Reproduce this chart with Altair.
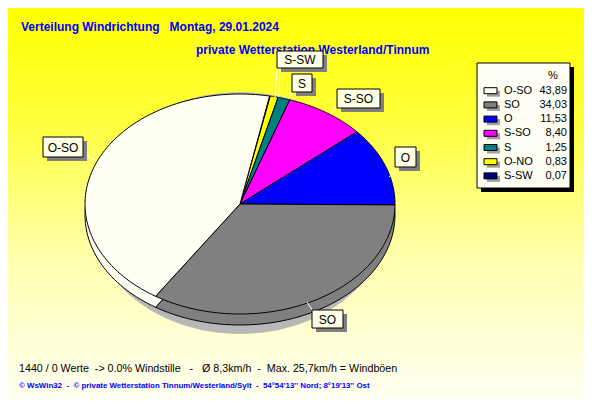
import altair as alt
import pandas as pd

# ---------------- data ----------------
names = ["O-SO", "SO", "O", "S-SO", "S", "O-NO", "S-SW"]
values = [43.89, 34.03, 11.53, 8.40, 1.25, 0.83, 0.07]
value_labels = ["43,89", "34,03", "11,53", "8,40", "1,25", "0,83", "0,07"]
colors = ["#FFFFF4", "#808080", "#0000FF", "#FF00FF", "#008080", "#FFFF00", "#000080"]

NB = "\u00a0"
title1 = "Verteilung Windrichtung   Montag, 29.01.2024".replace(" ", NB)
title2 = "private Wetterstation Westerland/Tinnum"
info_text = "1440 / 0 Werte  -> 0.0% Windstille   -   Ø 8,3km/h  -  Max. 25,7km/h = Windböen".replace(" ", NB)
footer_text = "© WsWin32  -  © private Wetterstation Tinnum/Westerland/Sylt  -  54°54'13'' Nord; 8°19'13'' Ost".replace(" ", NB)

# ---------------- layout (page pixel coords) ----------------
M = 8  # page margin
W, H = 592 - 2 * M, 407 - 2 * M
CX, CY = 240 - M, 204 - M
RX, RY = 155, 110
DEPTH = 11
START = 11  # degrees, clockwise from top
N = 90
FONT = "Liberation Sans"

label_boxes = {  # name: (x0, y0, x1, y1) page coords
    "O-SO": (43, 137, 83, 157),
    "S-SW": (277, 51, 323, 68),
    "S": (292, 74, 312, 92),
    "S-SO": (337, 89, 380, 108),
    "O": (395, 147, 416, 167),
    "SO": (312, 310, 343, 328),
}
leaders = [  # (x0, y0, x1, y1) page coords
    (84, 154, 96, 161),
    (277, 68, 275, 98),
    (280, 68, 279, 97),
    (292, 92, 289, 98),
    (337, 106, 330, 114),
    (397, 170, 389, 177),
    (313, 311, 307, 302),
]
LEG = (477, 63, 570, 188)
LEG_ROW0, LEG_STEP = 90.7, 14.2

xs = alt.Scale(domain=[0, W], nice=False, zero=False)
ys = alt.Scale(domain=[0, H], nice=False, zero=False, reverse=True)
X = lambda f: alt.X(f, type="quantitative", scale=xs, axis=None)
Y = lambda f: alt.Y(f, type="quantitative", scale=ys, axis=None)
X2 = lambda f: alt.X2(f)
Y2 = lambda f: alt.Y2(f)

# ---------------- pie slices (clockwise from START in reverse legend order) ----------------
df = pd.DataFrame({"name": names, "value": values, "color": colors})
rev = df.iloc[::-1].reset_index(drop=True)
total = rev["value"].sum()
rev["t1"] = START + rev["value"].cumsum() / total * 360
rev["t0"] = rev["t1"] - rev["value"] / total * 360


def wedges(dy):
    return (
        alt.Chart(rev)
        .transform_calculate(i=f"sequence(0,{N + 3})")
        .transform_flatten(["i"])
        .transform_calculate(frac=f"clamp((datum.i-1)/{N},0,1)")
        .transform_calculate(
            t="(datum.t0 + (datum.t1-datum.t0)*datum.frac)*PI/180",
            c=f"datum.i==0 || datum.i=={N + 2}",
        )
        .transform_calculate(
            px=f"datum.c ? {CX} : {CX} + {RX}*sin(datum.t)",
            py=f"(datum.c ? {CY} : {CY} - {RY}*cos(datum.t)) + {dy}",
        )
        .mark_line(interpolate="linear-closed", stroke="black", strokeWidth=1, strokeJoin="round")
        .encode(
            x=X("px"),
            y=Y("py"),
            fill=alt.Fill("name:N", scale=alt.Scale(domain=names, range=colors), legend=None),
            detail="name:N",
            order=alt.Order("i:Q"),
        )
    )


shadow = (
    alt.Chart(pd.DataFrame({"k": [0]}))
    .transform_calculate(i="sequence(0,121)")
    .transform_flatten(["i"])
    .transform_calculate(t="datum.i*3*PI/180")
    .transform_calculate(
        px=f"{CX} + 150*sin(datum.t)",
        py=f"{CY} + 9 - 121*cos(datum.t)",
    )
    .mark_line(interpolate="linear-closed", fill="#B8B8B8", strokeOpacity=0)
    .encode(x=X("px"), y=Y("py"), order=alt.Order("i:Q"))
)

# ---------------- background ----------------
one = pd.DataFrame({"k": [0]})
bg = alt.Chart(one).mark_rect(
    color=alt.Gradient(
        gradient="linear",
        stops=[
            alt.GradientStop(color="#FFFF00", offset=0),
            alt.GradientStop(color="#FFFF40", offset=0.3),
            alt.GradientStop(color="#FFFFB0", offset=0.65),
            alt.GradientStop(color="#FFFFF2", offset=1),
        ],
        x1=0, x2=0, y1=0, y2=1,
    )
).encode(x=alt.value(0), x2=alt.value(W), y=alt.value(0), y2=alt.value(H))

# ---------------- labels ----------------
lb = pd.DataFrame(
    [
        {"name": k, "x0": v[0] - M, "y0": v[1] - M, "x1": v[2] - M, "y1": v[3] - M,
         "sx0": v[0] - M + 4, "sy0": v[1] - M + 4, "sx1": v[2] - M + 4, "sy1": v[3] - M + 4,
         "cx": (v[0] + v[2]) / 2 - M, "cy": (v[1] + v[3]) / 2 - M + 0.5}
        for k, v in label_boxes.items()
    ]
)
lab_shadow = alt.Chart(lb).mark_rect(color="#808080").encode(
    x=X("sx0"), x2=X2("sx1"), y=Y("sy0"), y2=Y2("sy1"))
lab_box = alt.Chart(lb).mark_rect(fill="#FFFFE6", stroke="black", strokeWidth=1).encode(
    x=X("x0"), x2=X2("x1"), y=Y("y0"), y2=Y2("y1"))
lab_text = alt.Chart(lb).mark_text(font=FONT, fontSize=12, color="black", baseline="middle").encode(
    x=X("cx"), y=Y("cy"), text="name:N")

ld = pd.DataFrame([{"x0": a - M, "y0": b - M, "x1": c - M, "y1": d - M} for a, b, c, d in leaders])
lead = alt.Chart(ld).mark_rule(color="white", strokeWidth=1).encode(
    x=X("x0"), y=Y("y0"), x2=X2("x1"), y2=Y2("y1"))

# ---------------- legend ----------------
lx0, ly0, lx1, ly1 = [v - M for v in LEG]
leg_frame = pd.DataFrame({"x0": [lx0], "y0": [ly0], "x1": [lx1], "y1": [ly1],
                          "sx0": [lx0 + 4], "sy0": [ly0 + 4], "sx1": [lx1 + 4], "sy1": [ly1 + 4]})
leg_shadow = alt.Chart(leg_frame).mark_rect(color="black").encode(
    x=X("sx0"), x2=X2("sx1"), y=Y("sy0"), y2=Y2("sy1"))
leg_box = alt.Chart(leg_frame).mark_rect(fill="#FFFFF6", stroke="black", strokeWidth=1).encode(
    x=X("x0"), x2=X2("x1"), y=Y("y0"), y2=Y2("y1"))

leg = pd.DataFrame({"name": names, "val": value_labels, "row": list(range(len(names)))})
leg_base = alt.Chart(leg).transform_calculate(
    yc=f"{LEG_ROW0 - M} + datum.row*{LEG_STEP}",
    sy0=f"{LEG_ROW0 - M} + datum.row*{LEG_STEP} - 3",
    sy1=f"{LEG_ROW0 - M} + datum.row*{LEG_STEP} + 3",
    hy0=f"{LEG_ROW0 - M} + datum.row*{LEG_STEP} + 0",
    hy1=f"{LEG_ROW0 - M} + datum.row*{LEG_STEP} + 6",
    sx0=f"{484 - M}", sx1=f"{497 - M}", hx0=f"{487 - M}", hx1=f"{500 - M}",
)
sw_shadow = leg_base.mark_rect(color="#A0A0A0").encode(
    x=X("hx0"), x2=X2("hx1"), y=Y("hy0"), y2=Y2("hy1"))
sw = leg_base.mark_rect(stroke="black", strokeWidth=1).encode(
    x=X("sx0"), x2=X2("sx1"), y=Y("sy0"), y2=Y2("sy1"),
    fill=alt.Fill("name:N", scale=alt.Scale(domain=names, range=colors), legend=None))
leg_names = leg_base.mark_text(font=FONT, fontSize=11, align="left", baseline="middle", color="black").encode(
    x=alt.value(504 - M), y=Y("yc"), text="name:N")
leg_vals = leg_base.mark_text(font=FONT, fontSize=11, align="right", baseline="middle", color="black").encode(
    x=alt.value(567 - M), y=Y("yc"), text="val:N")
leg_pct = alt.Chart(one).mark_text(text="%", font=FONT, fontSize=11, align="center", baseline="middle",
                                   color="black").encode(x=alt.value(553 - M), y=alt.value(76 - M))

# ---------------- texts ----------------
t1 = alt.Chart(one).mark_text(text=title1, font=FONT, fontSize=12, fontWeight="bold", color="#0000FF",
                              align="left", baseline="alphabetic").encode(x=alt.value(21 - M), y=alt.value(31 - M))
t2 = alt.Chart(one).mark_text(text=title2, font=FONT, fontSize=12, fontWeight="bold", color="#0000FF",
                              align="left", baseline="alphabetic").encode(x=alt.value(196 - M), y=alt.value(54 - M))
info = alt.Chart(one).mark_text(text=info_text, font=FONT, fontSize=10.7, color="black",
                                align="left", baseline="middle").encode(x=alt.value(19 - M), y=alt.value(369 - M))
foot = alt.Chart(one).mark_text(text=footer_text, font=FONT, fontSize=7.9, fontWeight="bold", color="#0000FF",
                                align="left", baseline="middle").encode(x=alt.value(19 - M), y=alt.value(386 - M))

chart = alt.layer(
    bg, t2, shadow, wedges(DEPTH), wedges(0), lead,
    lab_shadow, lab_box, lab_text,
    leg_shadow, leg_box, sw_shadow, sw, leg_names, leg_vals, leg_pct,
    t1, info, foot,
).properties(width=W, height=H, padding=0, autosize="none").configure_view(stroke=None)

chart.save("out.html", embed_options={"renderer": "svg", "actions": False})
